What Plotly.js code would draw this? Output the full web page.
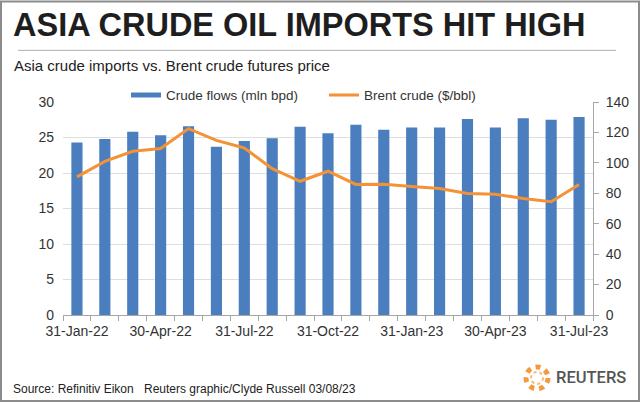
<!DOCTYPE html>
<html>
<head>
<meta charset="utf-8">
<script src="https://cdn.plot.ly/plotly-3.0.1.min.js"></script>
<style>
  html, body { margin: 0; padding: 0; background: #fff; }
  #plot { width: 640px; height: 402px; }
</style>
</head>
<body>
<div id="plot"></div>
<script>
// month-end categories, Jan-22 .. Jul-23
var months = ["31-Jan-22", "28-Feb-22", "31-Mar-22", "30-Apr-22", "31-May-22", "30-Jun-22",
              "31-Jul-22", "31-Aug-22", "30-Sep-22", "31-Oct-22", "30-Nov-22", "31-Dec-22",
              "31-Jan-23", "28-Feb-23", "31-Mar-23", "30-Apr-23", "31-May-23", "30-Jun-23", "31-Jul-23"];
// only every third month gets a label
var tickLabels = ["31-Jan-22", "", "", "30-Apr-22", "", "", "31-Jul-22", "", "", "31-Oct-22", "", "",
                  "31-Jan-23", "", "", "30-Apr-23", "", "", "31-Jul-23"];
// Asia crude imports, mln bpd
var crudeFlows = [24.3, 24.8, 25.8, 25.3, 26.6, 23.7, 24.5, 24.9, 26.5, 25.6,
                  26.8, 26.1, 26.4, 26.4, 27.6, 26.4, 27.7, 27.5, 27.9];
// Brent crude futures, $/bbl
var brent = [90.8, 101.0, 107.6, 109.4, 122.5, 114.8, 109.8, 96.2, 87.9, 94.5,
             85.8, 86.0, 84.4, 83.1, 79.9, 79.4, 76.6, 74.4, 85.8];

var blue = "#4A7EBF";
var orange = "#F39237";

// plot box in pixels, used to place the text around it
var L = 63, R = 593, T = 101.7, B = 315;
function px(x) { return (x - L) / (R - L); }
function py(y) { return (B - y) / (B - T); }

var traces = [
    {
        x: months,
        y: crudeFlows,
        type: "bar",
        name: "Crude flows (mln bpd)",
        marker: {color: blue},
        legendgroup: "flows",
        showlegend: false,
        hoverinfo: "x+y"
    },
    // legend swatch for the bars, drawn as a wide flat bar like the original
    {
        x: [null],
        y: [null],
        type: "scatter",
        mode: "lines",
        name: "Crude flows (mln bpd)",
        line: {color: blue, width: 5},
        legendgroup: "flows",
        hoverinfo: "skip"
    },
    {
        x: months,
        y: brent,
        type: "scatter",
        mode: "lines",
        name: "Brent crude ($/bbl)",
        yaxis: "y2",
        line: {color: orange, width: 3}
    }
];

var tickFont = {family: "Liberation Sans, Arial, sans-serif", size: 14, color: "#333"};

var layout = {
    width: 640,
    height: 402,
    margin: {l: L, r: 640 - R, t: T, b: 402 - B},
    paper_bgcolor: "#fff",
    plot_bgcolor: "#fff",
    bargap: 0.6,
    showlegend: true,
    legend: {
        orientation: "h",
        x: px(126),
        xanchor: "left",
        y: py(95),
        yanchor: "middle",
        font: {family: "Liberation Sans, Arial, sans-serif", size: 13.5, color: "#333"},
        itemwidth: 30,
        entrywidth: 153,
        entrywidthmode: "pixels",
        bgcolor: "rgba(0,0,0,0)"
    },
    xaxis: {
        type: "category",
        categoryorder: "array",
        categoryarray: months,
        tickmode: "array",
        tickvals: months,
        ticktext: tickLabels,
        tickson: "boundaries",
        ticks: "outside",
        ticklen: 5,
        tickcolor: "#a6a6a6",
        showline: true,
        linecolor: "#a6a6a6",
        linewidth: 1,
        showgrid: false,
        tickfont: tickFont,
        tickangle: 0,
        ticklabelstandoff: 3,
        fixedrange: true
    },
    yaxis: {
        range: [0, 30],
        dtick: 5,
        tick0: 0,
        showgrid: true,
        gridcolor: "#dedede",
        gridwidth: 1,
        zeroline: false,
        showline: false,
        ticks: "",
        ticklabelstandoff: 8,
        tickfont: tickFont,
        fixedrange: true
    },
    yaxis2: {
        overlaying: "y",
        side: "right",
        range: [0, 140],
        dtick: 20,
        tick0: 0,
        showgrid: false,
        zeroline: false,
        showline: true,
        linecolor: "#a6a6a6",
        ticks: "outside",
        ticklen: 5,
        tickcolor: "#a6a6a6",
        ticklabelstandoff: 4,
        tickfont: tickFont,
        fixedrange: true
    },
    shapes: [
        // outer frame
        {type: "rect", xref: "paper", yref: "paper",
         x0: px(1), x1: px(639), y0: py(401), y1: py(1),
         line: {color: "#8c8c8c", width: 2}},
        // rule under the headline
        {type: "line", xref: "paper", yref: "paper",
         x0: px(18), x1: px(616), y0: py(50), y1: py(50),
         line: {color: "#b0b0b0", width: 1}},
        // Reuters logo mark
        {type: "circle", xref: "paper", yref: "paper",
         x0: px(526), x1: px(548), y0: py(389), y1: py(367),
         line: {color: "#F39A3C", width: 5, dash: "dot"}},
        {type: "circle", xref: "paper", yref: "paper",
         x0: px(531), x1: px(543), y0: py(384), y1: py(372),
         line: {color: "#F7B97A", width: 2, dash: "dot"}}
    ],
    annotations: [
        {text: "<b>ASIA CRUDE OIL IMPORTS HIT HIGH</b>", xref: "paper", yref: "paper",
         x: px(11), y: py(25), xanchor: "left", yanchor: "middle", showarrow: false,
         font: {family: "Liberation Sans, Arial, sans-serif", size: 32.5, color: "#1e1e1e"}},
        {text: "Asia crude imports vs. Brent crude futures price", xref: "paper", yref: "paper",
         x: px(12), y: py(65), xanchor: "left", yanchor: "middle", showarrow: false,
         font: {family: "Liberation Sans, Arial, sans-serif", size: 15, color: "#222"}},
        {text: "Source: Refinitiv Eikon", xref: "paper", yref: "paper",
         x: px(11), y: py(389), xanchor: "left", yanchor: "middle", showarrow: false,
         font: {family: "Liberation Sans, Arial, sans-serif", size: 12, color: "#222"}},
        {text: "Reuters graphic/Clyde Russell 03/08/23", xref: "paper", yref: "paper",
         x: px(142), y: py(389), xanchor: "left", yanchor: "middle", showarrow: false,
         font: {family: "Liberation Sans, Arial, sans-serif", size: 12, color: "#222"}},
        {text: "REUTERS", xref: "paper", yref: "paper",
         x: px(554), y: py(378), xanchor: "left", yanchor: "middle", showarrow: false,
         font: {family: "Roboto, Liberation Sans, sans-serif", size: 16.5, weight: 500, color: "#555"}}
    ]
};

Plotly.newPlot("plot", traces, layout, {displayModeBar: false, staticPlot: true});
</script>
</body>
</html>
